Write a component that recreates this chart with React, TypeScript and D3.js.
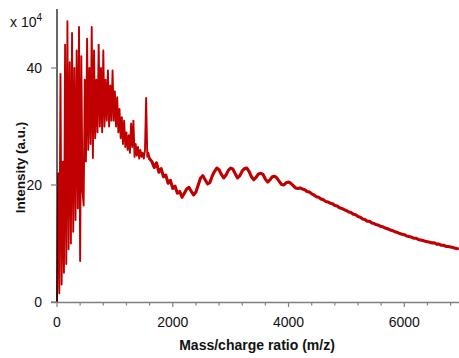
import React from "react";
import * as d3 from "d3";

// m/z sampling of the dense low-mass region (step 20) and the tail (step 40)
const MZ_LOW_START = 0;
const MZ_LOW_STEP = 20;
const INTENSITY_LOW = [
  0, 22, 1.5, 39, 3, 24, 5, 44, 6.5, 48, 9, 41, 10, 46, 12, 40, 14, 43, 16, 47,
  7, 42, 19, 16.5, 38, 24, 45, 26, 40, 27, 47, 24.6, 43, 28, 38, 29, 44, 30, 40, 29,
  43, 30, 38, 31, 39.6, 30, 37, 31, 39.6, 31, 36, 30, 35, 29, 33, 28, 31.6, 27, 31, 26.5,
  29, 26, 28.5, 25.5, 30.5, 26.5, 31, 24.8, 27, 25, 26.5, 24.5, 26, 24.8, 25.5, 24.5, 26, 34.9, 24.8, 25.5,
  24.5,
];

const MZ_HIGH_START = 1640;
const MZ_HIGH_STEP = 40;
const INTENSITY_HIGH = [
  24.0, 23.0, 23.8, 22.2, 22.8, 21.4, 21.7, 20.3, 20.8, 19.4, 19.8, 18.6, 18.9, 17.9, 18.6, 19.3,
  19.6, 18.9, 18.3, 18.8, 20.0, 21.2, 21.6, 20.9, 20.2, 20.4, 21.5, 22.3, 22.9, 22.6, 21.8, 21.2,
  21.7, 22.5, 22.9, 22.7, 21.9, 21.2, 21.6, 22.4, 22.8, 22.9, 22.3, 21.4, 20.9, 21.3, 21.9, 22.0,
  21.8, 21.0, 20.5, 20.9, 21.4, 21.5, 21.2, 20.6, 20.1, 20.0, 20.4, 20.5, 20.3, 19.9, 19.5, 19.4,
  19.5, 19.3, 19.2, 18.9, 18.8, 18.5, 18.3, 18.0, 17.9, 17.6, 17.5, 17.2, 17.1, 16.9, 16.8, 16.5,
  16.4, 16.1, 16.0, 15.8, 15.6, 15.4, 15.3, 15.0, 14.9, 14.6, 14.5, 14.2, 14.1, 13.8, 13.8, 13.5,
  13.4, 13.2, 13.1, 12.9, 12.8, 12.6, 12.5, 12.3, 12.2, 12.0, 11.9, 11.7, 11.6, 11.5, 11.3, 11.2,
  11.1, 10.9, 10.9, 10.7, 10.6, 10.5, 10.4, 10.3, 10.2, 10.1, 10.1, 9.9, 9.9, 9.7, 9.7, 9.5,
  9.5, 9.4, 9.3, 9.2, 9.1,
];

const X_TICKS = [0, 2000, 4000, 6000];
const Y_TICKS = [0, 20, 40];
const X_LABEL = "Mass/charge ratio (m/z)";
const Y_LABEL = "Intensity (a.u.)";

export default function App() {
  const W = 459;
  const H = 358;
  const x = d3.scaleLinear().domain([0, 6945]).range([57, 459]);
  const y = d3.scaleLinear().domain([0, 50]).range([302, 9.5]);

  const low: [number, number][] = INTENSITY_LOW.map((v, i) => [MZ_LOW_START + i * MZ_LOW_STEP, v]);
  const high: [number, number][] = [low[low.length - 1]];
  INTENSITY_HIGH.forEach((v, i) => high.push([MZ_HIGH_START + i * MZ_HIGH_STEP, v]));
  const line = d3
    .line<[number, number]>()
    .x((d) => x(d[0]))
    .y((d) => y(d[1]));

  const minorX = d3.range(0, 6945, 400);
  const font = "Liberation Sans, Arial, sans-serif";
  const grey = "#7f7f7f";
  const red = "#c00000";

  return (
    <svg
      width={W}
      height={H}
      style={{ position: "absolute", left: 0, top: 0, background: "#fff" }}
      fontFamily={font}
    >
      <path d={line(low) || ""} fill="none" stroke={red} strokeWidth={1.9} strokeLinejoin="round" />
      <path d={line(high) || ""} fill="none" stroke={red} strokeWidth={3.1} strokeLinejoin="round" strokeLinecap="round" />
      {/* x axis */}
      <line x1={51} x2={459} y1={y(0) + 0.5} y2={y(0) + 0.5} stroke={grey} strokeWidth={1.3} />
      {minorX.map((t) => (
        <line key={"m" + t} x1={x(t)} x2={x(t)} y1={y(0)} y2={y(0) + (t % 2000 === 0 ? 5 : 3.5)} stroke={grey} strokeWidth={1.2} />
      ))}
      {X_TICKS.map((t) => (
        <text key={"xt" + t} x={x(t)} y={327} fontSize={14} textAnchor="middle" fill="#111">
          {t}
        </text>
      ))}
      {/* y axis */}
      <line x1={57} x2={57} y1={9} y2={302} stroke="#000" strokeWidth={1.2} />
      {Y_TICKS.map((t) => (
        <g key={"yt" + t}>
          <line x1={51} x2={57} y1={y(t)} y2={y(t)} stroke={grey} strokeWidth={1.2} />
          <text x={42} y={y(t) + 5} fontSize={14} textAnchor="end" fill="#111">
            {t}
          </text>
        </g>
      ))}
      <text x={10} y={27} fontSize={14} fill="#111">
        x 10
        <tspan fontSize={10} dy={-6}>
          4
        </tspan>
      </text>
      <text x={257} y={350} fontSize={14} fontWeight="bold" textAnchor="middle" fill="#111">
        {X_LABEL}
      </text>
      <text
        transform="translate(25,167.5) rotate(-90)"
        fontSize={13.5}
        fontWeight="bold"
        textAnchor="middle"
        fill="#111"
      >
        {Y_LABEL}
      </text>
    </svg>
  );
}
